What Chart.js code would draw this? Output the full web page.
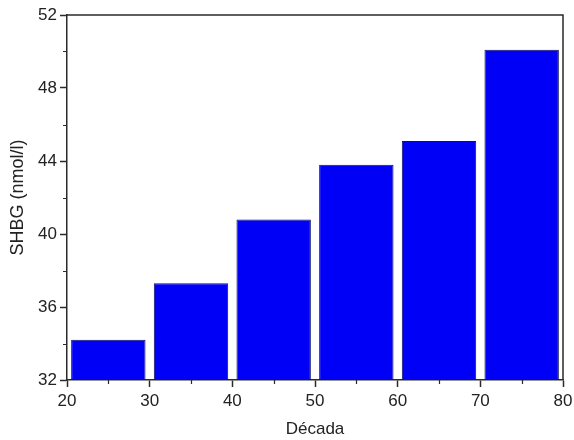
<!DOCTYPE html>
<html>
<head>
<meta charset="utf-8">
<script src="https://cdn.jsdelivr.net/npm/chart.js@4.4.0/dist/chart.umd.min.js"></script>
<style>
html,body{margin:0;padding:0;background:#fff;}
#wrap{width:574px;height:440px;}
</style>
</head>
<body>
<div id="wrap"><canvas id="c" width="574" height="440"></canvas></div>
<script>
const decades = [25, 35, 45, 55, 65, 75];
const shbg = [34.2, 37.3, 40.8, 43.8, 45.1, 50.1];
const xTicks = [20, 30, 40, 50, 60, 70, 80];
const yTicks = [32, 36, 40, 44, 48, 52];

const FONT = "'Liberation Sans', Arial, sans-serif";
const AX = '#2a2a2a';

const frame = {
  id: 'frame',
  afterDraw(chart) {
    const {ctx, chartArea: a, scales} = chart;
    ctx.save();
    ctx.strokeStyle = AX;
    ctx.lineWidth = 1.5;
    ctx.beginPath();
    ctx.moveTo(a.left, a.top); ctx.lineTo(a.right, a.top); ctx.lineTo(a.right, a.bottom);
    ctx.stroke();
    ctx.lineWidth = 1.2;
    ctx.beginPath();
    for (let i = 0; i < yTicks.length - 1; i++) {
      const v = (yTicks[i] + yTicks[i + 1]) / 2;
      const p = Math.round(scales.y.getPixelForValue(v)) + 0.5;
      ctx.moveTo(a.left - 4, p); ctx.lineTo(a.left, p);
    }
    for (let i = 0; i < xTicks.length - 1; i++) {
      const v = (xTicks[i] + xTicks[i + 1]) / 2;
      const p = Math.round(scales.x.getPixelForValue(v)) + 0.5;
      ctx.moveTo(p, a.bottom); ctx.lineTo(p, a.bottom + 4);
    }
    ctx.stroke();
    ctx.restore();
  }
};

new Chart(document.getElementById('c'), {
  type: 'bar',
  data: {
    datasets: [{
      data: decades.map((d, i) => ({x: d, y: shbg[i]})),
      backgroundColor: '#0000f6',
      borderColor: '#101060',
      borderWidth: 1,
      barPercentage: 0.9,
      categoryPercentage: 1.0
    }]
  },
  options: {
    responsive: false,
    animation: false,
    devicePixelRatio: 1,
    layout: {padding: {top: 15, right: 11, left: 0, bottom: 0}},
    plugins: {legend: {display: false}, tooltip: {enabled: false}},
    scales: {
      x: {
        type: 'linear',
        min: 20, max: 80,
        offset: false,
        afterBuildTicks(s) { s.ticks = xTicks.map(v => ({value: v})); },
        afterFit(s) { s.height = 60; s.paddingLeft = 0; s.paddingRight = 0; },
        grid: {display: true, drawOnChartArea: false, offset: false, tickLength: 7, color: AX, tickWidth: 1.5},
        border: {display: true, color: AX, width: 1.5},
        ticks: {color: '#222', font: {family: FONT, size: 17}, padding: 4, maxRotation: 0},
        title: {display: true, text: 'Década', color: '#222', font: {family: FONT, size: 17}, padding: {top: 1, bottom: 0}}
      },
      y: {
        min: 32, max: 52,
        afterBuildTicks(s) { s.ticks = yTicks.map(v => ({value: v})); },
        afterFit(s) { s.width = 67; s.paddingTop = 0; s.paddingBottom = 0; },
        grid: {display: true, drawOnChartArea: false, tickLength: 7, color: AX, tickWidth: 1.5},
        border: {display: true, color: AX, width: 1.5},
        ticks: {color: '#222', font: {family: FONT, size: 17}, padding: 3},
        title: {display: true, text: 'SHBG (nmol/l)', color: '#222', font: {family: FONT, size: 18}, padding: {top: 7, bottom: 4}}
      }
    }
  },
  plugins: [frame]
});
</script>
</body>
</html>
